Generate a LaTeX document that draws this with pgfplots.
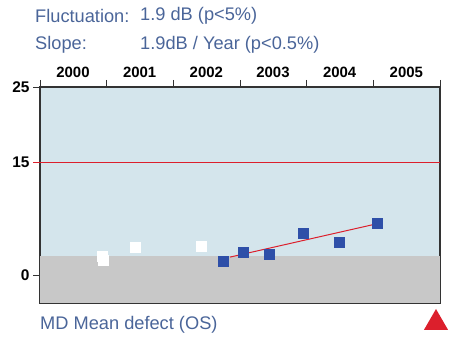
\documentclass[border=0pt]{standalone}
\usepackage{pgfplots}
\pgfplotsset{compat=1.18}
\usetikzlibrary{shapes.geometric}
\usepackage{fontspec}
\setmainfont{Liberation Sans}
\definecolor{bgblue}{HTML}{D4E5EC}
\definecolor{bggray}{HTML}{C8C8C8}
\definecolor{ptblue}{HTML}{2E4FA8}
\definecolor{txtblue}{HTML}{4A6599}
\definecolor{lred}{HTML}{DC1F2C}
\begin{document}
\begin{tikzpicture}
\path[use as bounding box] (0bp,0bp) rectangle (453bp,341bp);
\tikzset{ttl/.style={anchor=west,text=txtblue,font=\fontsize{18.3}{19}\selectfont,inner sep=0pt}}
\node[ttl] at (35bp,325bp) {Fluctuation:};
\node[ttl] at (140bp,325bp) {1.9 dB (p<5\%)};
\node[ttl] at (35bp,296bp) {Slope:};
\node[ttl] at (140bp,296bp) {1.9dB / Year (p<0.5\%)};
\node[ttl] at (40bp,16bp) {MD Mean defect (OS)};
\node[fill=lred,regular polygon,regular polygon sides=3,inner sep=0pt,minimum size=28bp] at (436bp,18bp) {};
\begin{axis}[
  at={(40bp,38bp)}, anchor=south west,
  width=400bp, height=216bp, scale only axis,
  xmin=2000, xmax=2006, ymin=-3.7, ymax=25,
  xtick={2000,2001,2002,2003,2004,2005,2006},
  xticklabels={2000,2001,2002,2003,2004,2005,{}},
  xtick pos=upper, xticklabel pos=upper,
  x tick label style={xshift=33bp, yshift=-1bp, font=\bfseries\fontsize{15}{16}\selectfont},
  ytick={0,15,25},
  ytick pos=left,
  y tick label style={font=\bfseries\fontsize{15.5}{16}\selectfont},
  tick align=outside,
  major tick length=7bp,
  axis line style={draw=black!80, line width=1.2pt},
  tick style={draw=black!80, line width=0.9pt},
  axis background/.style={fill=bgblue},
  /pgf/number format/assume math mode=true,
  /pgf/number format/set thousands separator={},
  clip=false,
]
\addplot[fill=bggray, draw=none] coordinates {(2000,-3.7) (2006,-3.7) (2006,2.5) (2000,2.5)} -- cycle;
\addplot[lred, line width=1pt] coordinates {(1999.9,15) (2006,15)};
\addplot[only marks, mark=square*, mark size=5bp, mark options={fill=white, draw=white}] coordinates {
 (2000.93,2.53) (2000.945,1.99) (2001.425,3.72) (2002.415,3.86)
};
\addplot[lred, line width=1pt] coordinates {(2002.85,2.4) (2005.04,6.8)};
\addplot[only marks, mark=square*, mark size=5bp, mark options={fill=ptblue, draw=ptblue}] coordinates {
 (2002.745,1.86) (2003.045,3.06) (2003.435,2.79) (2003.945,5.59) (2004.485,4.39) (2005.055,6.91)
};
\end{axis}
\end{tikzpicture}
\end{document}
